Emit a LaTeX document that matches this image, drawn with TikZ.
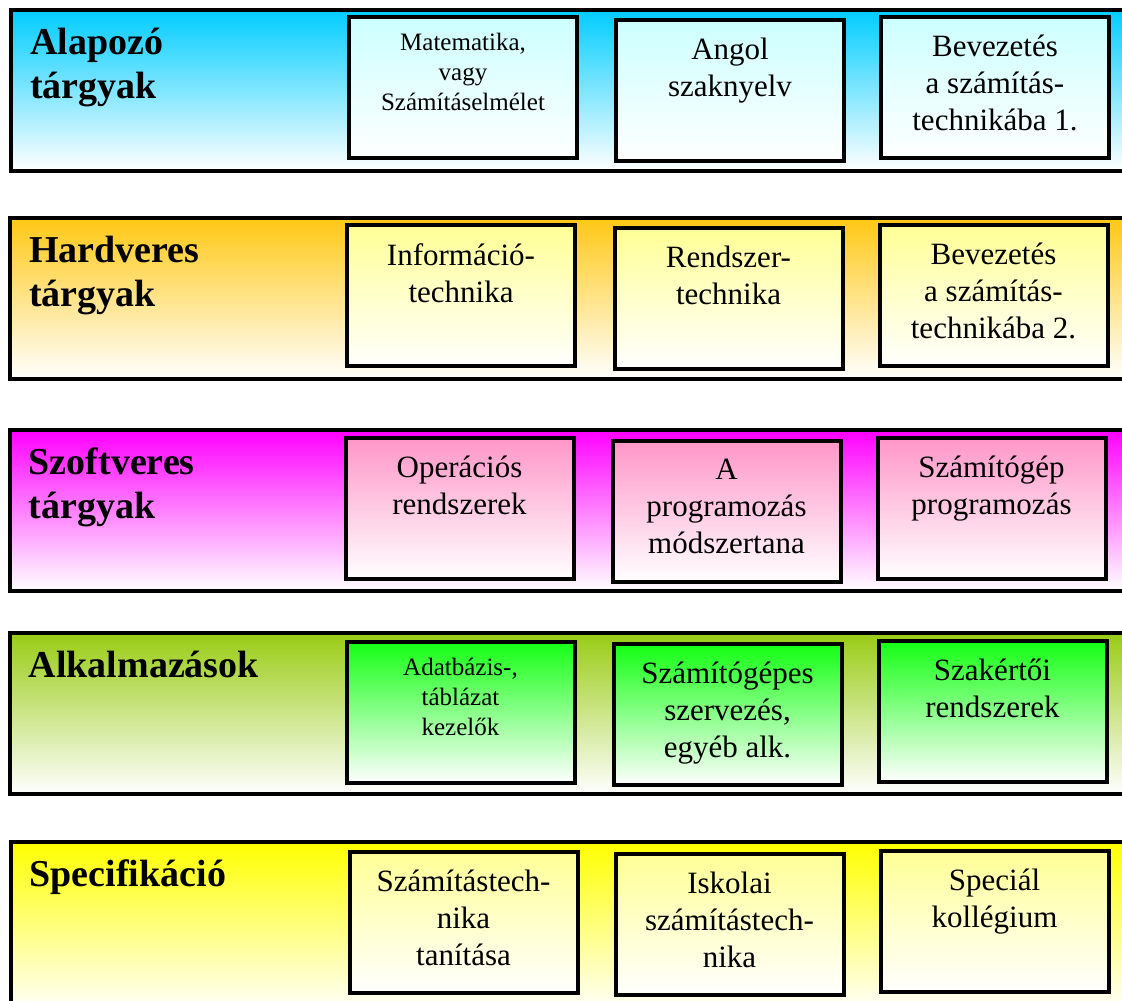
\documentclass[tikz,border=0pt]{standalone}
\usepackage{fontspec}
\setmainfont{Liberation Serif}
\definecolor{bandcyan}{RGB}{0, 204, 255}
\definecolor{boxcyan}{RGB}{204, 255, 255}
\definecolor{bandorange}{RGB}{255, 200, 20}
\definecolor{boxyellow}{RGB}{255, 255, 150}
\definecolor{bandmagenta}{RGB}{255, 0, 255}
\definecolor{boxpink}{RGB}{255, 150, 200}
\definecolor{bandolive}{RGB}{153, 204, 20}
\definecolor{boxgreen}{RGB}{20, 255, 20}
\definecolor{bandyellow}{RGB}{255, 255, 0}
\usepackage{tikz}
\usetikzlibrary{positioning}

\begin{document}
\begin{tikzpicture}[
  x=1pt, y=-1pt,
  band/.style={draw, line width=4pt, minimum width=1130pt, minimum height=161pt, inner sep=0pt, bottom color=white},
  sbox/.style={draw, line width=4pt, minimum width=228pt, minimum height=141pt, inner sep=0pt, bottom color=white},
  title/.style={anchor=north west, align=left, inner sep=0pt, font=\fontsize{38}{44}\selectfont\bfseries},
  txt/.style={anchor=north, align=center, inner sep=0pt, font=\fontsize{31}{37}\selectfont},
  smalltxt/.style={anchor=north, align=center, inner sep=0pt, font=\fontsize{25}{30}\selectfont}
]
  \useasboundingbox (0,0) rectangle (1122,1001);
  \clip (0,0) rectangle (1122,1001);

  % Alapozó tárgyak
  \node[band, top color=bandcyan] (alapozo) at (576, 90) {};
  \node[title, below right=20pt and 21pt of alapozo.north west] (alapozo-t) {Alapozó\\tárgyak};
  \node[sbox, top color=boxcyan] (matek) at (463, 87.5) {};
  \node[sbox, top color=boxcyan] (angol) at (730, 90) {};
  \node[sbox, top color=boxcyan] (bevez1) at (995, 87) {};
  \node[smalltxt, below=18pt of matek.north] (matek-t) {Matematika,\\vagy\\Számításelmélet};
  \node[txt, below=20pt of angol.north] (angol-t) {Angol\\szaknyelv};
  \node[txt, below=20pt of bevez1.north] (bevez1-t) {Bevezetés\\a számítás-\\technikába 1.};

  % Hardveres tárgyak
  \node[band, top color=bandorange] (hardver) at (575, 298) {};
  \node[title, below right=20pt and 21pt of hardver.north west] (hardver-t) {Hardveres\\tárgyak};
  \node[sbox, top color=boxyellow] (infotech) at (461, 295.5) {};
  \node[sbox, top color=boxyellow] (rendszer) at (728.5, 298.5) {};
  \node[sbox, top color=boxyellow] (bevez2) at (993.5, 295.5) {};
  \node[txt, below=20pt of infotech.north] (infotech-t) {Információ-\\technika};
  \node[txt, below=20pt of rendszer.north] (rendszer-t) {Rendszer-\\technika};
  \node[txt, below=20pt of bevez2.north] (bevez2-t) {Bevezetés\\a számítás-\\technikába 2.};

  % Szoftveres tárgyak
  \node[band, top color=bandmagenta] (szoftver) at (574.5, 510) {};
  \node[title, below right=20pt and 21pt of szoftver.north west] (szoftver-t) {Szoftveres\\tárgyak};
  \node[sbox, top color=boxpink] (oprend) at (459.5, 508) {};
  \node[sbox, top color=boxpink] (progmod) at (726.5, 511) {};
  \node[sbox, top color=boxpink] (szgprog) at (991.5, 508) {};
  \node[txt, below=20pt of oprend.north] (oprend-t) {Operációs\\rendszerek};
  \node[txt, below=20pt of progmod.north] (progmod-t) {A\\programozás\\módszertana};
  \node[txt, below=20pt of szgprog.north] (szgprog-t) {Számítógép\\programozás};

  % Alkalmazások
  \node[band, top color=bandolive] (alkalm) at (574.5, 713.5) {};
  \node[title, below right=20pt and 21pt of alkalm.north west] (alkalm-t) {Alkalmazások};
  \node[sbox, top color=boxgreen] (adatb) at (460.5, 712) {};
  \node[sbox, top color=boxgreen] (szervez) at (727.5, 714.5) {};
  \node[sbox, top color=boxgreen] (szakerto) at (992.5, 711.5) {};
  \node[smalltxt, below=18pt of adatb.north] (adatb-t) {Adatbázis-,\\táblázat\\kezelők};
  \node[txt, below=20pt of szervez.north] (szervez-t) {Számítógépes\\szervezés,\\egyéb alk.};
  \node[txt, below=20pt of szakerto.north] (szakerto-t) {Szakértői\\rendszerek};

  % Specifikáció
  \node[band, top color=bandyellow, minimum height=170pt] (spec) at (575.5, 927) {};
  \node[title, below right=20pt and 21pt of spec.north west] (spec-t) {Specifikáció};
  \node[sbox, top color=boxyellow] (tanitas) at (463.5, 922) {};
  \node[sbox, top color=boxyellow] (iskolai) at (729.5, 924) {};
  \node[sbox, top color=boxyellow] (kolleg) at (994.5, 921.5) {};
  \node[txt, below=20pt of tanitas.north] (tanitas-t) {Számítástech-\\nika\\tanítása};
  \node[txt, below=20pt of iskolai.north] (iskolai-t) {Iskolai\\számítástech-\\nika};
  \node[txt, below=20pt of kolleg.north] (kolleg-t) {Speciál\\kollégium};
\end{tikzpicture}
\end{document}
